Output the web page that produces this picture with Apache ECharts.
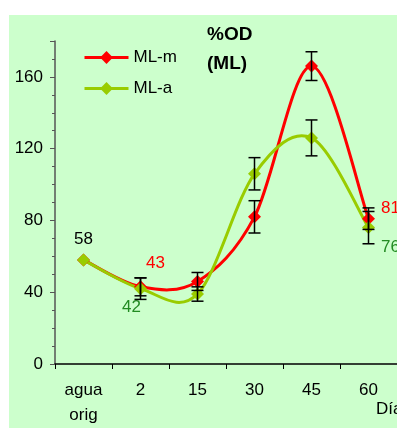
<!DOCTYPE html>
<html><head><meta charset="utf-8">
<script src="https://cdn.jsdelivr.net/npm/echarts@6/dist/echarts.min.js"></script>
<style>html,body{margin:0;padding:0;background:#fff}#c{width:397px;height:428px}</style>
</head><body><div id="c"></div>
<script>
const categories = ['agua\norig', '2', '15', '30', '45', '60'];
const mlM = [58, 43, 46, 82, 166, 81];
const mlA = [58, 42, 39, 106, 126, 76];
const mlMErr = [0, 5, 5, 9, 8, 6];
const mlAErr = [0, 6, 4, 9, 10, 9];
const yMin = 0, yMax = 180, yStep = 40;

const FONT = 'Liberation Sans, Arial, sans-serif';
const RED = '#FF0000', GREEN = '#99CC00', DKGREEN = '#228B22';
const chart = echarts.init(document.getElementById('c'), null, {renderer: 'canvas'});

function errData(vals, errs) {
  return vals.map((v, i) => [i, v - errs[i], v + errs[i]]).filter((d, i) => errs[i] > 0);
}
function errSeries(vals, errs) {
  return {
    type: 'custom', z: 5, silent: true,
    renderItem: function (params, api) {
      const x = api.value(0);
      const lo = api.coord([x, api.value(1)]);
      const hi = api.coord([x, api.value(2)]);
      const w = 6;
      const st = {stroke: '#000', lineWidth: 1.5};
      return {type: 'group', children: [
        {type: 'line', shape: {x1: lo[0], y1: lo[1], x2: hi[0], y2: hi[1]}, style: st},
        {type: 'line', shape: {x1: lo[0] - w, y1: lo[1], x2: lo[0] + w, y2: lo[1]}, style: st},
        {type: 'line', shape: {x1: hi[0] - w, y1: hi[1], x2: hi[0] + w, y2: hi[1]}, style: st}
      ]};
    },
    encode: {x: 0, y: [1, 2]},
    data: errData(vals, errs)
  };
}

// Excel-like smoothed line: one cubic segment per pair of points (Catmull-Rom style)
function splineData(vals) {
  const n = vals.length, out = [];
  for (let i = 0; i < n - 1; i++) {
    const a = Math.max(i - 1, 0), d = Math.min(i + 2, n - 1);
    out.push([i, a, vals[a], vals[i], vals[i + 1], d, vals[d]]);
  }
  return out;
}
function splineSeries(vals, color) {
  return {
    type: 'custom', z: 2, silent: true,
    renderItem: function (params, api) {
      const i = api.value(0);
      const p0 = api.coord([api.value(1), api.value(2)]);
      const p1 = api.coord([i, api.value(3)]);
      const p2 = api.coord([i + 1, api.value(4)]);
      const p3 = api.coord([api.value(5), api.value(6)]);
      const k = 1 / 6;
      return {
        type: 'bezierCurve',
        shape: {
          x1: p1[0], y1: p1[1], x2: p2[0], y2: p2[1],
          cpx1: p1[0] + (p2[0] - p0[0]) * k, cpy1: p1[1] + (p2[1] - p0[1]) * k,
          cpx2: p2[0] - (p3[0] - p1[0]) * k, cpy2: p2[1] - (p3[1] - p1[1]) * k
        },
        style: {stroke: color, lineWidth: 3, fill: null, lineCap: 'round'}
      };
    },
    encode: {x: 0, y: 3},
    data: splineData(vals)
  };
}

const lblM = mlM.map((v, i) => {
  if (i === 1) return {value: v, label: {show: true, position: 'inside', offset: [15, -24], color: RED}};
  if (i === 5) return {value: v, label: {show: true, position: 'inside', offset: [22, -10], color: RED}};
  return v;
});
const lblA = mlA.map((v, i) => {
  if (i === 0) return {value: v, label: {show: true, position: 'inside', offset: [0, -21], color: '#000'}};
  if (i === 1) return {value: v, label: {show: true, position: 'inside', offset: [-9, 19], color: DKGREEN}};
  if (i === 5) return {value: v, label: {show: true, position: 'inside', offset: [22, 20], color: DKGREEN}};
  return v;
});

chart.setOption({
  backgroundColor: '#ffffff',
  animation: false,
  textStyle: {fontFamily: FONT},
  graphic: [
    {type: 'rect', z: -10, shape: {x: 9, y: 15, width: 390, height: 415}, style: {fill: '#CCFFCC'}},
    {type: 'text', left: 376, top: 401, style: {text: 'Días', font: '17px ' + FONT, fill: '#000'}}
  ],
  title: {
    text: '%OD\n(ML)', left: 207, top: 20, padding: 0,
    textStyle: {fontFamily: FONT, fontSize: 19, fontWeight: 'bold', color: '#000', lineHeight: 29}
  },
  legend: {
    orient: 'vertical', left: 83, top: 49, padding: 0,
    itemWidth: 44, itemHeight: 16, itemGap: 14,
    textStyle: {fontFamily: FONT, fontSize: 17, color: '#000'},
    data: [
      {name: 'ML-m', lineStyle: {color: RED, width: 3, opacity: 1}},
      {name: 'ML-a', lineStyle: {color: GREEN, width: 3, opacity: 1}}
    ]
  },
  grid: {left: 55, top: 41, width: 343, height: 325},
  xAxis: {
    type: 'category', data: categories, boundaryGap: true,
    axisLine: {lineStyle: {color: '#000', width: 1.5}},
    axisTick: {show: true, length: 5, lineStyle: {color: '#000'}},
    axisLabel: {color: '#000', fontSize: 17, fontFamily: FONT, margin: 14, lineHeight: 25, interval: 0}
  },
  yAxis: {
    type: 'value', min: yMin, max: yMax, interval: yStep,
    axisLine: {show: true, lineStyle: {color: '#555', width: 1.5}},
    axisTick: {show: true, length: 5, lineStyle: {color: '#555'}},
    minorTick: {show: true, splitNumber: 4, length: 3, lineStyle: {color: '#555'}},
    splitLine: {show: false},
    axisLabel: {color: '#000', fontSize: 17, fontFamily: FONT, margin: 12, showMaxLabel: false}
  },
  series: [
    {
      name: 'ML-m', type: 'line', data: lblM, z: 3,
      symbol: 'diamond', symbolSize: 13,
      itemStyle: {color: RED}, lineStyle: {color: RED, width: 3, opacity: 0},
      label: {fontSize: 17, fontFamily: FONT}
    },
    {
      name: 'ML-a', type: 'line', data: lblA, z: 3,
      symbol: 'diamond', symbolSize: 13,
      itemStyle: {color: GREEN}, lineStyle: {color: GREEN, width: 3, opacity: 0},
      label: {fontSize: 17, fontFamily: FONT}
    },
    splineSeries(mlM, RED),
    splineSeries(mlA, GREEN),
    errSeries(mlM, mlMErr),
    errSeries(mlA, mlAErr)
  ]
});
</script></body></html>
